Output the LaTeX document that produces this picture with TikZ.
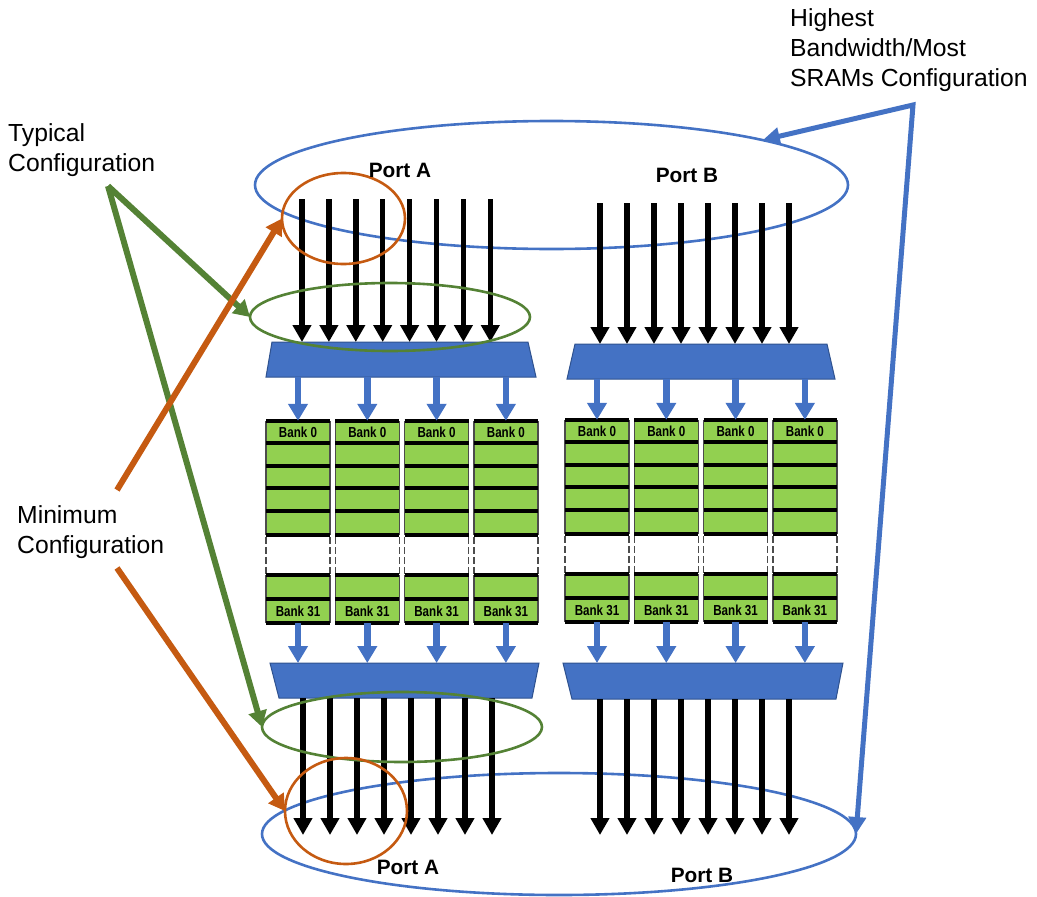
\documentclass[tikz,border=0pt]{standalone}
\usepackage{fontspec}
\setmainfont{Liberation Sans}
\newfontfamily\bankfont[FakeStretch=0.8]{Liberation Sans}
\usetikzlibrary{arrows.meta,shapes.geometric,calc}

\definecolor{muxblue}{HTML}{4472C4}
\definecolor{muxedge}{HTML}{2F528F}
\definecolor{bankgreen}{HTML}{92D050}
\definecolor{typgreen}{HTML}{548235}
\definecolor{minorange}{HTML}{C55A11}

\begin{document}
\begin{tikzpicture}[
		x=1pt, y=-1pt,
		% Stijlen
		bus/.style={line width=5.5pt, -{Triangle[width=18pt,length=17pt]}},
		feed/.style={line width=6.5pt, muxblue, -{Triangle[width=19pt,length=17pt]}},
		muxbox/.style={rectangle, inner sep=0pt, outer sep=0pt, minimum height=35pt},
		muxfill/.style={fill=muxblue, draw=muxedge, line width=1pt},
		ring/.style={ellipse, draw, line width=2.6pt, inner sep=0pt, outer sep=0pt},
		pointer/.style={line width=6pt, -{Triangle[width=18pt,length=16pt]}},
		cellside/.style={draw=black!70, line width=1.3pt},
		rowline/.style={draw=black, line width=3.2pt},
		banklabel/.style={inner sep=0pt, minimum width=64pt, minimum height=22pt,
			font=\bankfont\bfseries\fontsize{14.5}{14.5}\selectfont},
		caption/.style={align=left, anchor=north west, inner sep=0pt, font=\fontsize{24.7}{30}\selectfont},
		port/.style={anchor=base, inner sep=0pt, font=\bfseries\fontsize{20.8}{21}\selectfont}
	]

	% --- Raamwerk ---
	\useasboundingbox (0,0) rectangle (1037,897);

	% --- 1. Blauwe ellipsen (grootste configuratie) ---
	\node[ring, draw=muxblue, minimum width=593pt, minimum height=128pt] (hiTop) at (551.5,185) {};
	\node[ring, draw=muxblue, minimum width=594pt, minimum height=122pt] (hiBot) at (559,834) {};

	% --- 2. Multiplexers ---
	\node[muxbox, minimum width=270pt] (muxTA) at (401,359.5) {};
	\node[muxbox, minimum width=268pt] (muxTB) at (701,361.5) {};
	\node[muxbox, minimum width=269pt] (muxBA) at (404.5,680.5) {};
	\node[muxbox, minimum width=280pt, minimum height=36pt] (muxBB) at (703,681) {};
	% boven: breder aan de onderkant
	\draw[muxfill] (muxTA.south west) -- ($(muxTA.north west)+(6,0)$) -- ($(muxTA.north east)+(-8,0)$) -- (muxTA.south east) -- cycle;
	\draw[muxfill] (muxTB.south west) -- ($(muxTB.north west)+(8,0)$) -- ($(muxTB.north east)+(-8,0)$) -- (muxTB.south east) -- cycle;
	% onder: breder aan de bovenkant
	\draw[muxfill] (muxBA.north west) -- (muxBA.north east) -- ($(muxBA.south east)+(-7,0)$) -- ($(muxBA.south west)+(9,0)$) -- cycle;
	\draw[muxfill] (muxBB.north west) -- (muxBB.north east) -- ($(muxBB.south east)+(-7,0)$) -- ($(muxBB.south west)+(9,0)$) -- cycle;

	% --- 3. Bussen in en uit ---
	\foreach \i in {0,...,7} {
		\coordinate (inA\i) at (302+26.9*\i,199);
		\coordinate (inB\i) at (600+27*\i,203);
		\coordinate (outA\i) at (303+27*\i,835);
		\coordinate (outB\i) at (600+27*\i,835);
		\draw[bus] (inA\i) -- (inA\i |- muxTA.north);
		\draw[bus] (inB\i) -- (inB\i |- muxTB.north);
		\draw[bus] (outA\i |- muxBA.south) -- (outA\i);
		\draw[bus] (outB\i |- muxBB.south) -- (outB\i);
	}

	% --- 4. Geheugenbanken ---
	\foreach \side/\xs/\yt in {A/266/421, B/565/420} {
		\foreach \c in {1,...,4} {
			\pgfmathsetmacro{\xl}{\xs+(\c-1)*69.3}
			\pgfmathsetmacro{\xr}{\xl+64}
			\fill[bankgreen] (\xl,\yt) rectangle (\xr,\yt+114);
			\fill[bankgreen] (\xl,\yt+154) rectangle (\xr,\yt+202);
			\draw[cellside] (\xl,\yt) -- (\xl,\yt+114) (\xr,\yt) -- (\xr,\yt+114)
				(\xl,\yt+154) -- (\xl,\yt+202) (\xr,\yt+154) -- (\xr,\yt+202);
			\draw[cellside, dash pattern=on 7pt off 3pt] (\xl,\yt+116) -- (\xl,\yt+154) (\xr,\yt+116) -- (\xr,\yt+154);
			\foreach \r in {0,22,45,67,90,114,154,178,202}
				\draw[rowline] (\xl,\yt+\r) -- (\xr,\yt+\r);
			\node[banklabel] (bank\side\c-0) at ({(\xl+\xr)/2},\yt+11) {Bank 0};
			\node[banklabel, minimum height=24pt] (bank\side\c-31) at ({(\xl+\xr)/2},\yt+190) {Bank 31};
		}
	}

	% --- 5. Verbindingen mux <-> banken ---
	\foreach \c in {1,...,4} {
		\draw[feed] (muxTA.south -| bankA\c-0.north) -- (bankA\c-0.north);
		\draw[feed] (muxTB.south -| bankB\c-0.north) -- (bankB\c-0.north);
		\draw[feed] (bankA\c-31.south) -- (bankA\c-31.south |- muxBA.north);
		\draw[feed] (bankB\c-31.south) -- (bankB\c-31.south |- muxBB.north);
	}

	% --- 6. Groene en oranje ringen ---
	\node[ring, draw=typgreen, minimum width=280pt, minimum height=68pt] (typTop) at (390,317) {};
	\node[ring, draw=typgreen, minimum width=280pt, minimum height=70pt] (typBot) at (402,727) {};
	\node[ring, draw=minorange, minimum width=123pt, minimum height=91pt] (minTop) at (343.5,218.5) {};
	\node[ring, draw=minorange, minimum width=122pt, minimum height=106pt] (minBot) at (346,811) {};

	% --- 7. Poortlabels ---
	\node[port] (portTA) at (400,177) {Port A};
	\node[port] (portTB) at (687,182) {Port B};
	\node[port] (portBA) at (408,874) {Port A};
	\node[port] (portBB) at (702,882) {Port B};

	% --- 8. Teksten ---
	\node[caption] (typLabel) at (8,123) {Typical\\Configuration};
	\node[caption] (minLabel) at (17,505) {Minimum\\Configuration};
	\node[caption] (hiLabel) at (790,8) {Highest\\Bandwidth/Most\\SRAMs Configuration};

	% --- 9. Wijzers ---
	\coordinate (typApex) at (108,186);
	\draw[pointer, typgreen] (typApex) -- (typTop.west);
	\draw[pointer, typgreen] (typApex) -- (typBot.west);

	\coordinate (minUp) at (117,490);
	\coordinate (minDown) at (117,568);
	\draw[pointer, minorange] (minUp) -- (minTop.west);
	\draw[pointer, minorange] (minDown) -- (minBot.west);

	\coordinate (hiCorner) at (913,105);
	\draw[line width=5pt, muxblue, {Triangle[width=17pt,length=17pt]}-{Triangle[width=17pt,length=17pt]}, line join=miter]
		(hiTop.12.6) -- (hiCorner) -- (hiBot.east);

\end{tikzpicture}
\end{document}
